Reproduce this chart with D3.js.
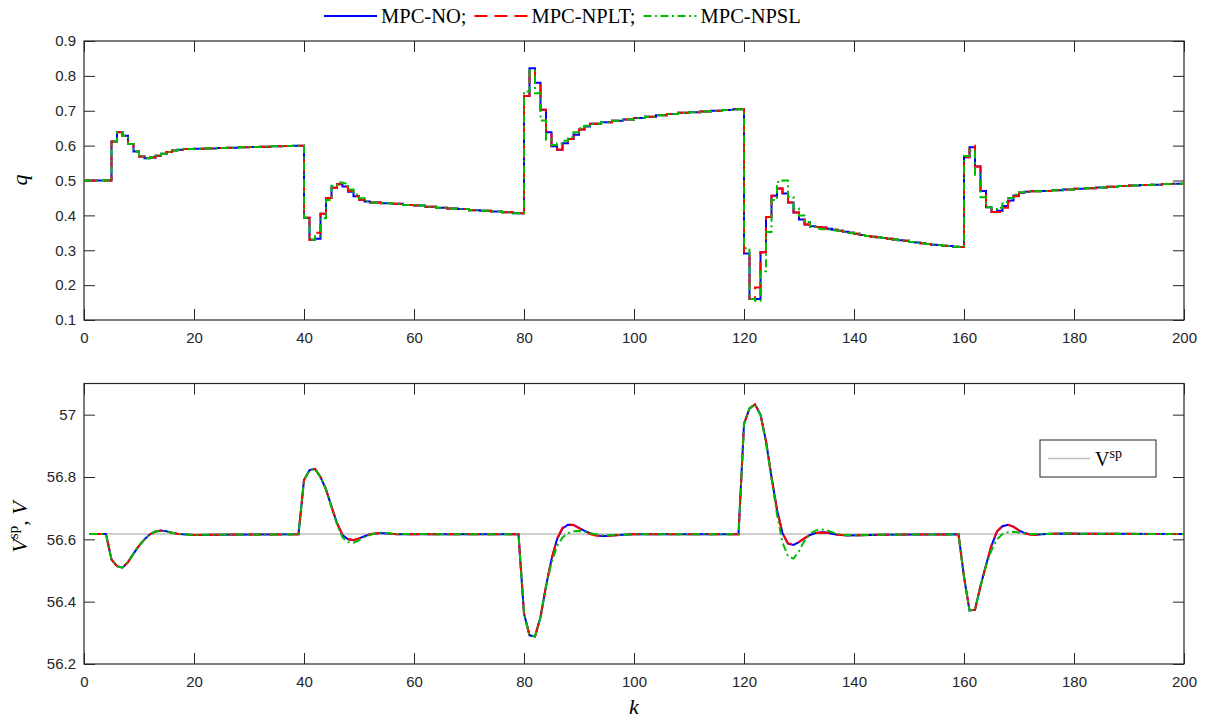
<!DOCTYPE html>
<html>
<head>
<meta charset="utf-8">
<script src="https://cdn.jsdelivr.net/npm/d3@7"></script>
<style>
  body { margin: 0; background: #fff; }
  svg { display: block; }
  .tex { font-family: 'Liberation Serif', 'DejaVu Serif', serif; fill: #000; }
</style>
</head>
<body>
<svg id="chart" width="1210" height="723"></svg>
<script>
// ---- data ----
const kTicks = [0, 20, 40, 60, 80, 100, 120, 140, 160, 180, 200];
const qTicks = [0.1, 0.2, 0.3, 0.4, 0.5, 0.6, 0.7, 0.8, 0.9];
const vTicks = [56.2, 56.4, 56.6, 56.8, 57];
const vSetpoint = 56.617;

// q: [k, value], each value holds until the next k (stairs)
const qNO = [
  [0,.500],[5,.612],[6,.638],[7,.628],[8,.605],[9,.583],[10,.569],[11,.564],[12,.566],[13,.571],
  [14,.577],[15,.582],[16,.586],[17,.588],[18,.590],[20,.591],[22,.592],[24,.593],[26,.594],[28,.595],
  [30,.596],[32,.597],[34,.598],[36,.599],[38,.600],
  [40,.393],[41,.330],[42,.333],[43,.405],[44,.450],[45,.479],[46,.489],[47,.483],[48,.468],[49,.455],
  [50,.445],[51,.440],[52,.437],[54,.435],[56,.433],[58,.430],[60,.428],[62,.425],[64,.422],[66,.420],
  [68,.418],[70,.415],[72,.413],[74,.411],[76,.409],[78,.406],
  [80,.742],[81,.822],[82,.780],[83,.703],[84,.638],[85,.598],[86,.588],[87,.607],[88,.619],[89,.631],
  [90,.646],[91,.655],[92,.663],[94,.667],[96,.671],[98,.675],[100,.679],[102,.683],[104,.687],[106,.691],
  [108,.694],[110,.696],[112,.698],[114,.700],[116,.702],[118,.704],
  [120,.291],[121,.160],[122,.160],[123,.294],[124,.395],[125,.456],[126,.477],[127,.463],[128,.437],[129,.408],
  [130,.388],[131,.374],[132,.369],[133,.367],[134,.365],[135,.362],[136,.359],[137,.356],[138,.353],[139,.350],
  [140,.347],[141,.344],[142,.341],[143,.339],[144,.337],[145,.335],[146,.333],[147,.331],[148,.329],[149,.327],
  [150,.324],[151,.322],[152,.320],[153,.318],[154,.316],[155,.315],[156,.313],[157,.312],[158,.310],[159,.309],
  [160,.567],[161,.595],[162,.540],[163,.470],[164,.423],[165,.410],[166,.413],[167,.427],[168,.443],[169,.457],
  [170,.465],[171,.468],[172,.469],[174,.470],[176,.472],[178,.474],[180,.476],[182,.478],[184,.480],[186,.482],
  [188,.484],[190,.486],[192,.487],[194,.488],[196,.490],[198,.491],[200,.492]
];
const qNPLT = [
  [0,.500],[5,.612],[6,.638],[7,.628],[8,.605],[9,.583],[10,.569],[11,.564],[12,.566],[13,.571],
  [14,.577],[15,.582],[16,.586],[17,.588],[18,.590],[20,.591],[22,.592],[24,.593],[26,.594],[28,.595],
  [30,.596],[32,.597],[34,.598],[36,.599],[38,.600],
  [40,.393],[41,.330],[42,.350],[43,.405],[44,.450],[45,.479],[46,.489],[47,.482],[48,.470],[49,.455],
  [50,.445],[51,.440],[52,.437],[54,.435],[56,.433],[58,.430],[60,.428],[62,.425],[64,.422],[66,.420],
  [68,.418],[70,.415],[72,.413],[74,.411],[76,.409],[78,.406],
  [80,.742],[81,.818],[82,.780],[83,.703],[84,.638],[85,.598],[86,.588],[87,.604],[88,.619],[89,.631],
  [90,.646],[91,.655],[92,.663],[94,.667],[96,.671],[98,.675],[100,.679],[102,.683],[104,.687],[106,.691],
  [108,.694],[110,.696],[112,.698],[114,.700],[116,.702],[118,.704],
  [120,.291],[121,.160],[122,.193],[123,.294],[124,.395],[125,.456],[126,.477],[127,.465],[128,.437],[129,.408],
  [130,.388],[131,.374],[132,.369],[133,.367],[134,.365],[135,.362],[136,.359],[137,.356],[138,.353],[139,.350],
  [140,.347],[141,.344],[142,.341],[143,.339],[144,.337],[145,.335],[146,.333],[147,.331],[148,.329],[149,.327],
  [150,.324],[151,.322],[152,.320],[153,.318],[154,.316],[155,.315],[156,.313],[157,.312],[158,.310],[159,.309],
  [160,.567],[161,.600],[162,.540],[163,.470],[164,.423],[165,.410],[166,.410],[167,.422],[168,.440],[169,.455],
  [170,.465],[171,.468],[172,.469],[174,.470],[176,.472],[178,.474],[180,.476],[182,.478],[184,.480],[186,.482],
  [188,.484],[190,.486],[192,.487],[194,.488],[196,.490],[198,.491],[200,.492]
];
const qNPSL = [
  [0,.500],[5,.612],[6,.638],[7,.628],[8,.605],[9,.583],[10,.569],[11,.564],[12,.566],[13,.571],
  [14,.577],[15,.582],[16,.586],[17,.588],[18,.590],[20,.591],[22,.592],[24,.593],[26,.594],[28,.595],
  [30,.596],[32,.597],[34,.598],[36,.599],[38,.600],
  [40,.393],[41,.330],[42,.340],[43,.392],[44,.444],[45,.485],[46,.494],[47,.492],[48,.474],[49,.460],
  [50,.449],[51,.441],[52,.437],[54,.435],[56,.433],[58,.430],[60,.428],[62,.425],[64,.422],[66,.420],
  [68,.418],[70,.415],[72,.413],[74,.411],[76,.409],[78,.406],
  [80,.755],[81,.815],[82,.750],[83,.672],[84,.617],[85,.602],[86,.606],[87,.614],[88,.624],[89,.638],
  [90,.650],[91,.657],[92,.663],[94,.667],[96,.671],[98,.675],[100,.679],[102,.683],[104,.687],[106,.691],
  [108,.694],[110,.696],[112,.698],[114,.700],[116,.702],[118,.704],
  [120,.306],[121,.160],[122,.155],[123,.240],[124,.352],[125,.444],[126,.496],[127,.500],[128,.453],[129,.420],
  [130,.400],[131,.381],[132,.367],[133,.362],[134,.360],[135,.359],[136,.357],[137,.355],[138,.353],[139,.350],
  [140,.347],[141,.344],[142,.341],[143,.339],[144,.337],[145,.335],[146,.333],[147,.331],[148,.329],[149,.327],
  [150,.324],[151,.322],[152,.320],[153,.318],[154,.316],[155,.315],[156,.313],[157,.312],[158,.310],[159,.309],
  [160,.570],[161,.586],[162,.516],[163,.452],[164,.423],[165,.418],[166,.422],[167,.438],[168,.450],[169,.460],
  [170,.466],[171,.468],[172,.469],[174,.470],[176,.472],[178,.474],[180,.476],[182,.478],[184,.480],[186,.482],
  [188,.484],[190,.486],[192,.487],[194,.488],[196,.490],[198,.491],[200,.492]
];

// V: [k, value], joined by straight lines
const vNO = [
  [1,56.617],[4,56.617],[5,56.535],[6,56.514],[7,56.509],[8,56.527],[9,56.554],[10,56.579],[11,56.600],[12,56.616],
  [13,56.625],[14,56.628],[15,56.626],[16,56.621],[17,56.618],[18,56.616],[20,56.614],[24,56.615],[39,56.616],
  [40,56.790],[41,56.822],[42,56.826],[43,56.800],[44,56.760],[45,56.705],[46,56.652],[47,56.614],[48,56.600],[49,56.597],
  [50,56.603],[51,56.610],[52,56.616],[53,56.619],[54,56.620],[55,56.619],[57,56.616],[79,56.616],
  [80,56.362],[81,56.292],[82,56.288],[83,56.350],[84,56.450],[85,56.535],[86,56.600],[87,56.635],[88,56.647],[89,56.646],
  [90,56.637],[91,56.627],[92,56.620],[93,56.614],[94,56.611],[95,56.611],[96,56.612],[98,56.615],[100,56.616],[119,56.616],
  [120,56.970],[121,57.020],[122,57.033],[123,57.000],[124,56.915],[125,56.800],[126,56.695],[127,56.620],[128,56.586],[129,56.582],
  [130,56.591],[131,56.603],[132,56.614],[133,56.620],[134,56.623],[135,56.622],[136,56.618],[137,56.615],[139,56.612],[141,56.613],
  [145,56.615],[159,56.616],
  [160,56.480],[161,56.372],[162,56.374],[163,56.450],[164,56.517],[165,56.580],[166,56.625],[167,56.642],[168,56.647],[169,56.641],
  [170,56.629],[171,56.620],[172,56.616],[173,56.615],[175,56.617],[178,56.619],[182,56.618],[200,56.617]
];
const vNPLT = [
  [1,56.617],[4,56.617],[5,56.535],[6,56.514],[7,56.509],[8,56.527],[9,56.554],[10,56.579],[11,56.600],[12,56.616],
  [13,56.625],[14,56.628],[15,56.626],[16,56.621],[17,56.618],[18,56.616],[20,56.614],[24,56.615],[39,56.616],
  [40,56.790],[41,56.822],[42,56.826],[43,56.800],[44,56.760],[45,56.705],[46,56.652],[47,56.615],[48,56.601],[49,56.598],
  [50,56.603],[51,56.610],[52,56.616],[53,56.619],[54,56.620],[55,56.619],[57,56.616],[79,56.616],
  [80,56.362],[81,56.292],[82,56.288],[83,56.350],[84,56.450],[85,56.536],[86,56.602],[87,56.637],[88,56.648],[89,56.646],
  [90,56.636],[91,56.625],[92,56.617],[93,56.612],[94,56.610],[95,56.610],[96,56.612],[98,56.615],[100,56.616],[119,56.616],
  [120,56.970],[121,57.020],[122,57.033],[123,57.000],[124,56.915],[125,56.800],[126,56.695],[127,56.620],[128,56.587],[129,56.584],
  [130,56.592],[131,56.604],[132,56.614],[133,56.620],[134,56.622],[135,56.621],[136,56.618],[137,56.615],[139,56.612],[141,56.613],
  [145,56.615],[159,56.616],
  [160,56.480],[161,56.372],[162,56.374],[163,56.450],[164,56.517],[165,56.581],[166,56.626],[167,56.643],[168,56.647],[169,56.640],
  [170,56.628],[171,56.619],[172,56.615],[173,56.615],[175,56.617],[178,56.619],[182,56.618],[200,56.617]
];
const vNPSL = [
  [1,56.617],[4,56.617],[5,56.535],[6,56.514],[7,56.509],[8,56.527],[9,56.554],[10,56.579],[11,56.600],[12,56.616],
  [13,56.625],[14,56.627],[15,56.625],[16,56.621],[17,56.618],[18,56.616],[20,56.614],[24,56.615],[39,56.616],
  [40,56.790],[41,56.822],[42,56.826],[43,56.800],[44,56.760],[45,56.703],[46,56.648],[47,56.606],[48,56.591],[49,56.589],
  [50,56.597],[51,56.607],[52,56.614],[53,56.619],[54,56.621],[55,56.620],[57,56.617],[79,56.616],
  [80,56.362],[81,56.292],[82,56.288],[83,56.350],[84,56.448],[85,56.525],[86,56.578],[87,56.606],[88,56.620],[89,56.626],
  [90,56.627],[91,56.624],[92,56.620],[93,56.616],[94,56.613],[96,56.613],[98,56.615],[100,56.616],[119,56.616],
  [120,56.970],[121,57.020],[122,57.033],[123,57.000],[124,56.910],[125,56.795],[126,56.680],[127,56.590],[128,56.545],[129,56.538],
  [130,56.562],[131,56.595],[132,56.618],[133,56.628],[134,56.632],[135,56.629],[136,56.623],[137,56.618],[138,56.614],[140,56.613],
  [145,56.615],[159,56.616],
  [160,56.480],[161,56.372],[162,56.374],[163,56.450],[164,56.515],[165,56.565],[166,56.600],[167,56.617],[168,56.623],[169,56.624],
  [170,56.622],[171,56.619],[172,56.617],[175,56.617],[178,56.619],[182,56.618],[200,56.617]
];

const series = [
  { name: 'MPC-NO;',   color: '#0000ff', dash: null,          q: qNO,   v: vNO },
  { name: 'MPC-NPLT;', color: '#ff0000', dash: '13,7',        q: qNPLT, v: vNPLT },
  { name: 'MPC-NPSL',  color: '#00bb00', dash: '8,3.5,2,3.5', q: qNPSL, v: vNPSL }
];

// ---- layout ----
const svg = d3.select('#chart');
const axisColor = '#262626';
const tickLen = 11;

const x = d3.scaleLinear().domain([0, 200]).range([84, 1184]);
const yQ = d3.scaleLinear().domain([0.1, 0.9]).range([320, 41]);
const yV = d3.scaleLinear().domain([56.2, 57.1]).range([664, 383.5]);

function styleAxis(g) {
  g.attr('font-family', "'Liberation Sans', Arial, sans-serif")
    .attr('font-size', 15)
    .attr('color', axisColor);
  g.select('.domain').remove();
  g.selectAll('.tick line').attr('stroke-width', 1);
}

// box with inward ticks on all four sides, labels on left and bottom
function drawAxes(yScale, yTickValues, yFormat) {
  const [bottom, top] = yScale.range();
  const [left, right] = x.range();
  const g = svg.append('g');

  g.append('g')
    .attr('transform', `translate(0,${bottom})`)
    .call(d3.axisBottom(x).tickValues(kTicks).tickSizeInner(-tickLen).tickSizeOuter(0).tickPadding(12))
    .call(styleAxis);
  g.append('g')
    .attr('transform', `translate(0,${top})`)
    .call(d3.axisTop(x).tickValues(kTicks).tickSizeInner(-tickLen).tickSizeOuter(0).tickFormat(''))
    .call(styleAxis);
  g.append('g')
    .attr('transform', `translate(${left},0)`)
    .call(d3.axisLeft(yScale).tickValues(yTickValues).tickSizeInner(-tickLen).tickSizeOuter(0).tickPadding(8).tickFormat(yFormat))
    .call(styleAxis);
  g.append('g')
    .attr('transform', `translate(${right},0)`)
    .call(d3.axisRight(yScale).tickValues(yTickValues).tickSizeInner(-tickLen).tickSizeOuter(0).tickFormat(''))
    .call(styleAxis);

  g.append('rect')
    .attr('x', left).attr('y', top)
    .attr('width', right - left).attr('height', bottom - top)
    .attr('fill', 'none')
    .attr('stroke', axisColor)
    .attr('stroke-width', 1.2);
}

drawAxes(yQ, qTicks, d3.format('.1f'));
drawAxes(yV, vTicks, d => d3.format('.1f')(d).replace(/\.0$/, ''));

// ---- top: q as stairs ----
const stairs = d3.line()
  .curve(d3.curveStepAfter)
  .x(d => x(d[0]))
  .y(d => yQ(d[1]));

svg.append('g')
  .selectAll('path')
  .data(series)
  .join('path')
  .attr('d', d => stairs(d.q))
  .attr('fill', 'none')
  .attr('stroke', d => d.color)
  .attr('stroke-width', 2)
  .attr('stroke-dasharray', d => d.dash);

// ---- bottom: setpoint and V ----
svg.append('line')
  .attr('x1', x(1)).attr('x2', x(200))
  .attr('y1', yV(vSetpoint)).attr('y2', yV(vSetpoint))
  .attr('stroke', '#bfbfbf')
  .attr('stroke-width', 1.6);

const vLine = d3.line()
  .x(d => x(d[0]))
  .y(d => yV(d[1]));

svg.append('g')
  .selectAll('path')
  .data(series)
  .join('path')
  .attr('d', d => vLine(d.v))
  .attr('fill', 'none')
  .attr('stroke', d => d.color)
  .attr('stroke-width', 2)
  .attr('stroke-dasharray', d => d.dash);

// ---- top legend (outside, above the first axes) ----
const legend = svg.append('g');
let lx = 324;
series.forEach(s => {
  legend.append('line')
    .attr('x1', lx).attr('x2', lx + 53)
    .attr('y1', 16).attr('y2', 16)
    .attr('stroke', s.color)
    .attr('stroke-width', 2)
    .attr('stroke-dasharray', s.dash);
  const t = legend.append('text')
    .attr('class', 'tex')
    .attr('x', lx + 57)
    .attr('y', 23)
    .attr('font-size', 20.5)
    .text(s.name);
  lx += 57 + t.node().getComputedTextLength() + 8;
});

// ---- bottom legend box ----
const box = svg.append('g');
box.append('rect')
  .attr('x', 1040).attr('y', 440)
  .attr('width', 116).attr('height', 37)
  .attr('fill', '#fff')
  .attr('stroke', axisColor)
  .attr('stroke-width', 1);
box.append('line')
  .attr('x1', 1048).attr('x2', 1090)
  .attr('y1', 458.5).attr('y2', 458.5)
  .attr('stroke', '#bfbfbf')
  .attr('stroke-width', 1.6);
const boxText = box.append('text')
  .attr('class', 'tex')
  .attr('x', 1095).attr('y', 466)
  .attr('font-size', 20);
boxText.append('tspan').text('V');
boxText.append('tspan').attr('dy', -8).attr('font-size', 14).text('sp');

// ---- axis labels ----
svg.append('text')
  .attr('class', 'tex')
  .attr('transform', 'translate(27,180) rotate(-90)')
  .attr('text-anchor', 'middle')
  .attr('font-size', 22)
  .attr('font-style', 'italic')
  .text('q');

const vLabel = svg.append('text')
  .attr('class', 'tex')
  .attr('transform', 'translate(27,527) rotate(-90)')
  .attr('text-anchor', 'middle')
  .attr('font-size', 22);
vLabel.append('tspan').attr('font-style', 'italic').text('V');
vLabel.append('tspan').attr('dy', -9).attr('font-size', 15).text('sp');
vLabel.append('tspan').attr('dy', 9).text(', ');
vLabel.append('tspan').attr('font-style', 'italic').text('V');

svg.append('text')
  .attr('class', 'tex')
  .attr('x', x(100)).attr('y', 714)
  .attr('text-anchor', 'middle')
  .attr('font-size', 22)
  .attr('font-style', 'italic')
  .text('k');
</script>
</body>
</html>
